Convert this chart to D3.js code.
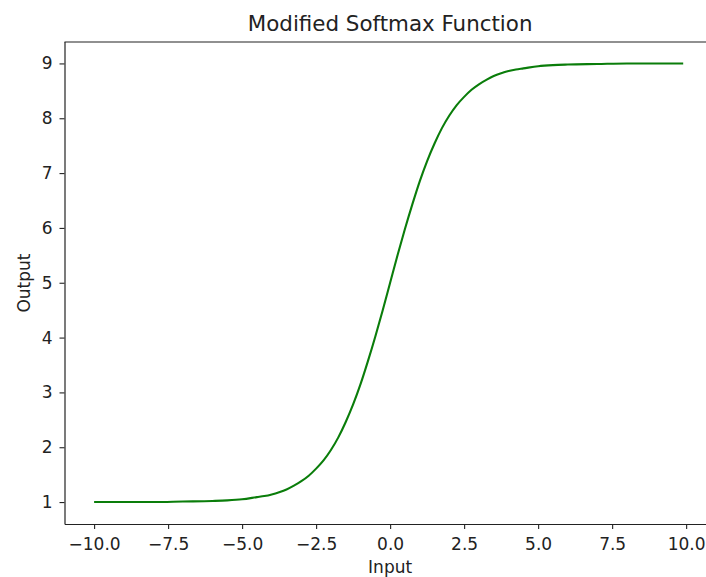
<!DOCTYPE html>
<html>
<head>
<meta charset="utf-8">
<script src="https://cdn.jsdelivr.net/npm/d3@7"></script>
<style>
  html, body { margin: 0; padding: 0; background: #fff; }
  svg { display: block; }
  text { font-family: "DejaVu Sans", sans-serif; fill: #222; }
</style>
</head>
<body>
<svg id="chart" width="706" height="577"></svg>
<script>
// Data
const inputs = [-10, -9, -8, -7, -6, -5.5, -5, -4.5, -4.25, -4, -3.75, -3.5, -3.25, -3, -2.75, -2.5, -2.25, -2, -1.75, -1.5, -1.25, -1, -0.75, -0.5, -0.25, 0,
                0.25, 0.5, 0.75, 1, 1.25, 1.5, 1.75, 2, 2.25, 2.5, 2.75, 3, 3.25, 3.5, 3.75, 4, 4.25, 4.5, 5, 5.5, 6, 7, 8, 9, 9.9];
const outputs = [1.00, 1.00, 1.00, 1.01, 1.02, 1.03, 1.05, 1.09, 1.11, 1.14, 1.18, 1.23, 1.30, 1.38, 1.48, 1.61, 1.76, 1.95, 2.18, 2.46, 2.78, 3.15, 3.57, 4.02, 4.50, 5.00,
                 5.50, 5.98, 6.43, 6.85, 7.22, 7.54, 7.82, 8.05, 8.24, 8.39, 8.52, 8.62, 8.70, 8.77, 8.82, 8.86, 8.89, 8.91, 8.95, 8.97, 8.98, 8.99, 9.00, 9.00, 9.00];
const xTicks = [-10, -7.5, -5, -2.5, 0, 2.5, 5, 7.5, 10];
const yTicks = [1, 2, 3, 4, 5, 6, 7, 8, 9];
const titleText = "Modified Softmax Function";
const xLabel = "Input";
const yLabel = "Output";

(function () {
const svg = d3.select("#chart");
const mLeft = 64.5, mRight = 715.75, mTop = 42, mBottom = 524;
const tickFont = "17px";

const x = d3.scaleLinear().domain([-11, 11]).range([mLeft, mRight]);
const y = d3.scaleLinear().domain([0.6, 9.4]).range([mBottom, 41.5]);

const points = inputs.map((v, i) => ({ x: v, y: outputs[i] }));

// Line
svg.append("path")
  .datum(points)
  .attr("fill", "none")
  .attr("stroke", "#0a7d0a")
  .attr("stroke-width", 2.1)
  .attr("d", d3.line().x(d => x(d.x)).y(d => y(d.y)).curve(d3.curveMonotoneX));

// Frame (top)
svg.append("line").attr("x1", mLeft).attr("x2", mRight).attr("y1", mTop).attr("y2", mTop)
  .attr("stroke", "#222").attr("stroke-width", 1.2);

// X axis
const xAxis = svg.append("g")
  .attr("transform", `translate(0,${mBottom})`)
  .call(d3.axisBottom(x).tickValues(xTicks).tickFormat(d3.format(".1f")).tickSize(5).tickPadding(9).tickSizeOuter(0));
xAxis.select(".domain").attr("stroke", "#222").attr("stroke-width", 1.2);
xAxis.selectAll(".tick line").attr("stroke", "#222").attr("stroke-width", 1.1);
xAxis.selectAll(".tick text").attr("font-size", tickFont).attr("fill", "#222")
  .attr("font-family", "DejaVu Sans, sans-serif");

// Y axis
const yAxis = svg.append("g")
  .attr("transform", `translate(${mLeft},0)`)
  .call(d3.axisLeft(y).tickValues(yTicks).tickFormat(d3.format("d")).tickSize(5).tickPadding(7).tickSizeOuter(0));
yAxis.select(".domain").attr("stroke", "#222").attr("stroke-width", 1.2);
yAxis.selectAll(".tick line").attr("stroke", "#222").attr("stroke-width", 1.1);
yAxis.selectAll(".tick text").attr("font-size", tickFont).attr("fill", "#222")
  .attr("font-family", "DejaVu Sans, sans-serif");

// Title
svg.append("text")
  .attr("x", (mLeft + mRight) / 2)
  .attr("y", 30.5)
  .attr("text-anchor", "middle")
  .attr("font-size", "21.4px")
  .text(titleText);

// X label
svg.append("text")
  .attr("x", (mLeft + mRight) / 2)
  .attr("y", 573)
  .attr("text-anchor", "middle")
  .attr("font-size", tickFont)
  .text(xLabel);

// Y label
svg.append("text")
  .attr("transform", `translate(30,${(mTop + mBottom) / 2}) rotate(-90)`)
  .attr("text-anchor", "middle")
  .attr("font-size", tickFont)
  .text(yLabel);
})();
</script>
</body>
</html>
